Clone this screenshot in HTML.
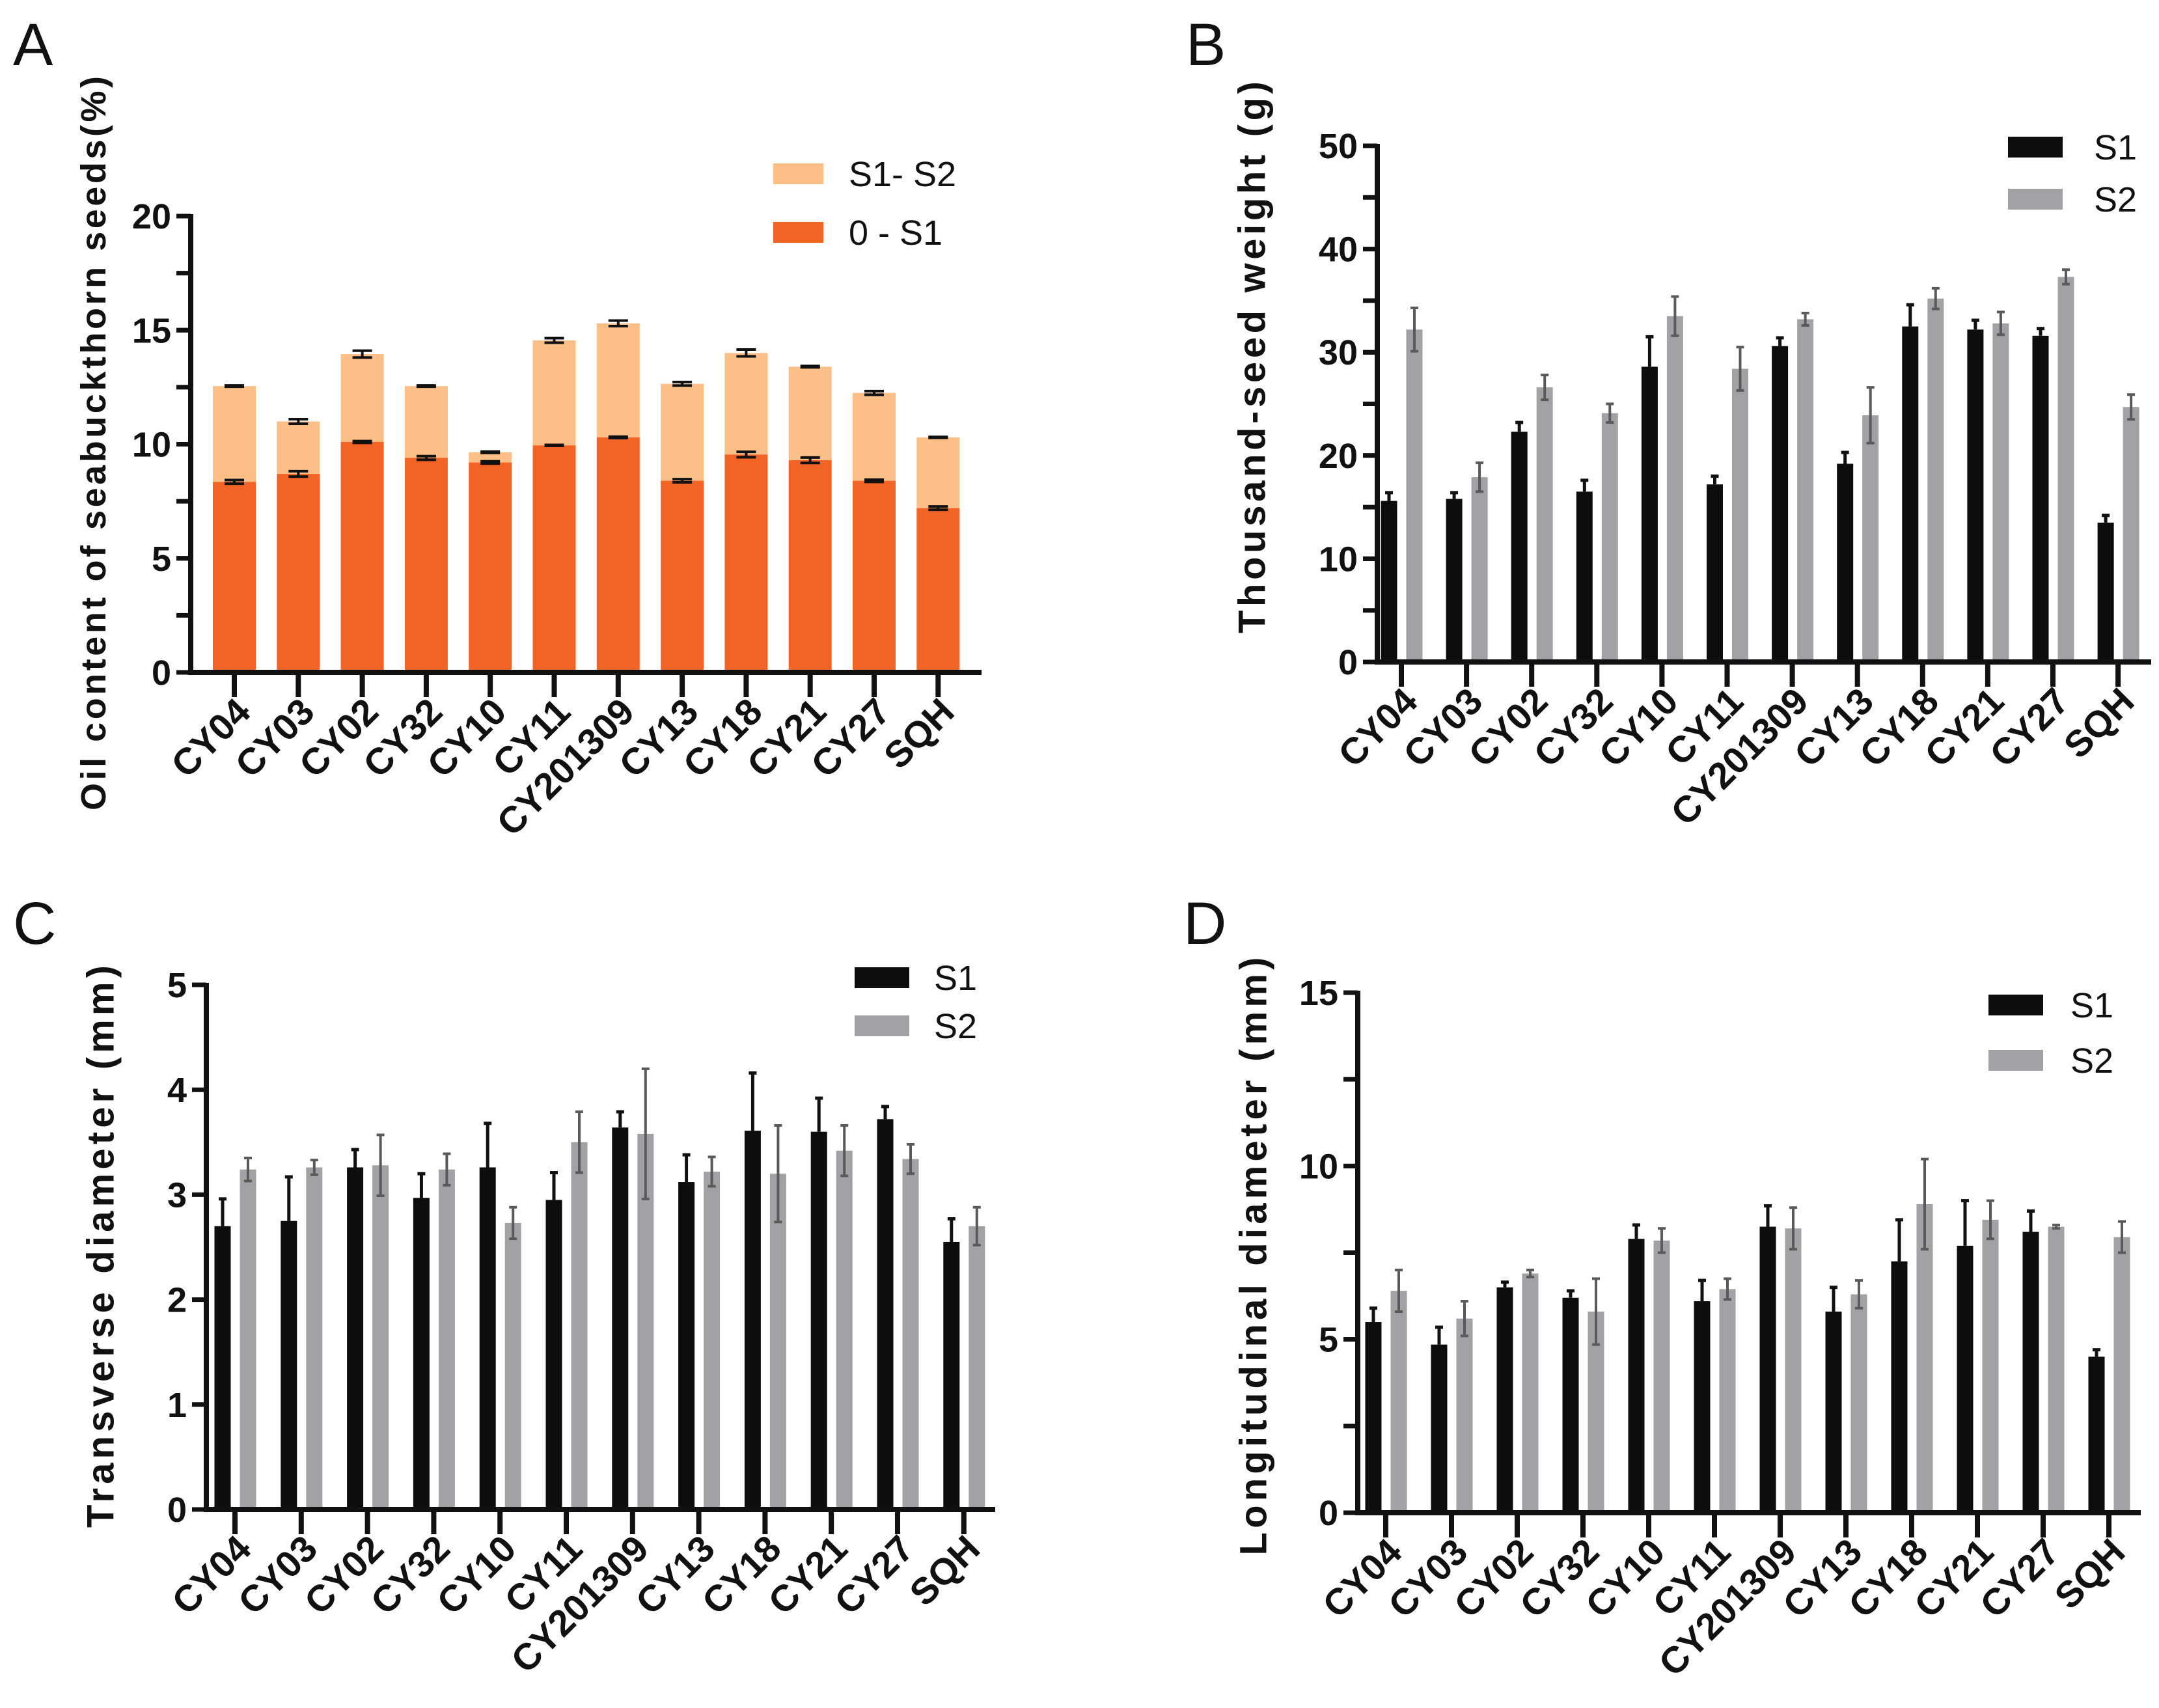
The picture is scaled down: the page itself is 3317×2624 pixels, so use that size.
<!DOCTYPE html>
<html><head><meta charset="utf-8"><style>
html,body{margin:0;padding:0;background:#fff;}
svg{display:block;}
text{font-family:"Liberation Sans",Arial,sans-serif;}
</style></head><body>
<svg id="fig" width="3317" height="2624" viewBox="0 0 3317 2624" xmlns="http://www.w3.org/2000/svg">
<rect width="3317" height="2624" fill="#fff"/>
<text x="20" y="100" font-size="92" fill="#111">A</text>
<text x="1822" y="100" font-size="92" fill="#111">B</text>
<text x="20" y="1450" font-size="92" fill="#111">C</text>
<text x="1818" y="1450" font-size="92" fill="#111">D</text>
</svg>
<script>
const categories = ["CY04","CY03","CY02","CY32","CY10","CY11","CY201309","CY13","CY18","CY21","CY27","SQH"];
// Panel A (stacked oil content)
const oilS1 = [8.35,8.7,10.1,9.4,9.2,9.95,10.3,8.4,9.55,9.3,8.4,7.2];
const oilS1Err = [0.08,0.12,0.04,0.08,0.05,0.02,0.03,0.07,0.12,0.12,0.05,0.07];
const oilTotal = [12.55,11.0,13.95,12.55,9.65,14.55,15.3,12.65,14.0,13.4,12.25,10.3];
const oilTotalErr = [0.03,0.1,0.15,0.03,0.03,0.1,0.12,0.08,0.15,0.03,0.08,0.02];
const ticksA = [0,5,10,15,20];
// Panel B (thousand-seed weight)
const tswS1 = [15.6,15.8,22.3,16.5,28.6,17.2,30.6,19.2,32.5,32.2,31.6,13.5];
const tswS1Err = [0.8,0.6,0.9,1.1,2.9,0.8,0.8,1.1,2.1,0.9,0.7,0.7];
const tswS2 = [32.2,17.9,26.6,24.1,33.5,28.4,33.2,23.9,35.2,32.8,37.3,24.7];
const tswS2Err = [2.1,1.4,1.2,0.9,1.9,2.1,0.6,2.7,1.0,1.1,0.7,1.2];
const ticksB = [0,10,20,30,40,50];
// Panel C (transverse diameter)
const tdS1 = [2.70,2.75,3.26,2.97,3.26,2.95,3.64,3.12,3.61,3.60,3.72,2.55];
const tdS1Err = [0.26,0.42,0.17,0.23,0.42,0.26,0.15,0.26,0.55,0.32,0.12,0.22];
const tdS2 = [3.24,3.26,3.28,3.24,2.73,3.50,3.58,3.22,3.20,3.42,3.34,2.70];
const tdS2Err = [0.11,0.07,0.29,0.15,0.15,0.29,0.62,0.14,0.46,0.24,0.14,0.18];
const ticksC = [0,1,2,3,4,5];
// Panel D (longitudinal diameter)
const ldS1 = [5.5,4.85,6.5,6.2,7.9,6.1,8.25,5.8,7.25,7.7,8.1,4.5];
const ldS1Err = [0.4,0.5,0.15,0.2,0.4,0.6,0.6,0.7,1.2,1.3,0.6,0.2];
const ldS2 = [6.4,5.6,6.9,5.8,7.85,6.45,8.2,6.3,8.9,8.45,8.25,7.95];
const ldS2Err = [0.6,0.5,0.1,0.95,0.35,0.3,0.6,0.4,1.3,0.55,0.05,0.45];
const ticksD = [0,5,10,15];

const NS="http://www.w3.org/2000/svg";
const svg=document.getElementById('fig');
function mk(tag,attrs,parent){const e=document.createElementNS(NS,tag);for(const k in attrs)e.setAttribute(k,attrs[k]);(parent||svg).appendChild(e);return e;}

function axes(g,p,ticks,minorStep){
  const ys=v=>p.y0-(v/p.max)*(p.y0-p.yTop);
  if(minorStep){for(let v=0;v<=p.max+1e-9;v+=minorStep){const t=mk('line',{x1:p.x0-22,x2:p.x0,y1:ys(v),y2:ys(v),stroke:'#111','stroke-width':7},g);
    
    }}
  ticks.forEach(v=>{
    const t=mk('line',{x1:p.x0-22,x2:p.x0,y1:ys(v),y2:ys(v),stroke:'#111','stroke-width':7},g);
    
    
    const l=mk('text',{x:p.x0-30,y:ys(v)+19,'text-anchor':'end','font-size':54,'font-weight':'bold',fill:'#111'},g);
    l.textContent=v;
    
    
  });
  const ya=mk('line',{x1:p.x0,x2:p.x0,y1:p.yTop-3,y2:p.y0+4,stroke:'#111','stroke-width':8},g);
  
  
  const xa=mk('line',{x1:p.x0-4,x2:p.xEnd,y1:p.y0,y2:p.y0,stroke:'#111','stroke-width':8},g);
  
  
  categories.forEach((c,i)=>{
    const cx=p.first+i*p.step;
    const t=mk('line',{x1:cx,x2:cx,y1:p.y0,y2:p.y0+38,stroke:'#111','stroke-width':8},g);
    
    
    const l=mk('text',{x:0,y:0,'text-anchor':'end','font-size':57,'font-weight':'bold',fill:'#111',transform:`translate(${cx+28},${p.y0+64}) rotate(-45)`},g);
    l.textContent=c;
    
    
  });
  const tt=mk('text',{x:0,y:0,'text-anchor':'middle','dominant-baseline':'central','font-size':p.tfs,'font-weight':'bold',fill:'#111',textLength:p.tlen,lengthAdjust:'spacing',transform:`translate(${p.tx},${p.ty}) rotate(-90)`},g);
  tt.textContent=p.title;
  
  
  return ys;
}
function errbar(g,x,yTop,yBot,cap,color,w){
  const e=mk('g',{},g);
  
  
  mk('line',{x1:x,x2:x,y1:yTop,y2:yBot,stroke:color,'stroke-width':w},e);
  mk('line',{x1:x-cap,x2:x+cap,y1:yTop,y2:yTop,stroke:color,'stroke-width':w},e);
  return e;
}
function legend(g,items,sx,sw,sh,tx,fs){
  items.forEach(it=>{
    const lg=mk('g',{},g);
    
    
    mk('rect',{x:sx,y:it.y,width:sw,height:sh,fill:it.c},lg);
    const t=mk('text',{x:tx,y:it.y+sh/2+19,'font-size':fs,fill:'#111'},lg);
    t.textContent=it.t;
  });
}

// Panel A
(function(){
  const g=mk('g',{});
  
  
  const p={x0:293,xEnd:1508,y0:1033,yTop:332,max:20,first:360,step:98.3,title:'Oil content of seabuckthorn seeds(%)',tx:144,ty:681,tlen:1128,tfs:54};
  const ysf=v=>p.y0-(v/p.max)*(p.y0-p.yTop);
  const bw=66;
  categories.forEach((c,i)=>{
    const cx=p.first+i*p.step;
    const b2=mk('rect',{x:cx-bw/2,y:ysf(oilTotal[i]),width:bw,height:ysf(oilS1[i])-ysf(oilTotal[i]),fill:'#fbbf87'},g);
    
    
    const b1=mk('rect',{x:cx-bw/2,y:ysf(oilS1[i]),width:bw,height:p.y0-ysf(oilS1[i]),fill:'#f26425'},g);
    
    
    [[oilS1[i],oilS1Err[i]],[oilTotal[i],oilTotalErr[i]]].forEach(([v,e])=>{
      const eg=errbar(g,cx,ysf(v+e),ysf(v-e),15,'#111',4);
      mk('line',{x1:cx-15,x2:cx+15,y1:ysf(v-e),y2:ysf(v-e),stroke:'#111','stroke-width':4},eg);
    });
  });
  axes(g,p,ticksA,2.5);
  legend(g,[{y:251,c:'#fbbf87',t:'S1- S2'},{y:341,c:'#f26425',t:'0 - S1'}],1188,77,32,1304,54);
})();

function grouped(name,p,s1,e1,s2,e2,ticks,minor,leg){
  const g=mk('g',{});
  
  
  const ysf=v=>p.y0-(v/p.max)*(p.y0-p.yTop);
  const bw=25;
  categories.forEach((c,i)=>{
    const cx=p.first+i*p.step;
    const x1=cx-19, x2=cx+20;
    errbar(g,x1,ysf(s1[i]+e1[i]),ysf(s1[i]),6,'#111',5);
    const b1=mk('rect',{x:x1-bw/2,y:ysf(s1[i]),width:bw,height:p.y0-ysf(s1[i]),fill:'#0d0d0d'},g);
    
    
    const b2=mk('rect',{x:x2-bw/2,y:ysf(s2[i]),width:bw,height:p.y0-ysf(s2[i]),fill:'#a2a2a5'},g);
    
    
    const eg=errbar(g,x2,ysf(s2[i]+e2[i]),ysf(s2[i]-e2[i]),6,'#5a5a5a',4);
    mk('line',{x1:x2-6,x2:x2+6,y1:ysf(s2[i]-e2[i]),y2:ysf(s2[i]-e2[i]),stroke:'#5a5a5a','stroke-width':4},eg);
  });
  axes(g,p,ticks,minor);
  legend(g,[{y:leg.y1,c:'#0d0d0d',t:'S1'},{y:leg.y2,c:'#a2a2a5',t:'S2'}],leg.sx,84,32,leg.tx,54);
}
grouped('chart-thousand-seed-weight',{x0:2116,xEnd:3305,y0:1017,yTop:224,max:50,first:2153,step:100.1,title:'Thousand-seed weight (g)',tx:1924,ty:549,tlen:848,tfs:58},tswS1,tswS1Err,tswS2,tswS2Err,ticksB,5,{y1:210,y2:290,sx:3085,tx:3217});
grouped('chart-transverse-diameter',{x0:317,xEnd:1529,y0:2319,yTop:1513,max:5,first:361,step:101.8,title:'Transverse diameter  (mm)',tx:155,ty:1915,tlen:864,tfs:58},tdS1,tdS1Err,tdS2,tdS2Err,ticksC,0,{y1:1486,y2:1560,sx:1313,tx:1435});
grouped('chart-longitudinal-diameter',{x0:2086,xEnd:3289,y0:2324,yTop:1525,max:15,first:2129,step:101,title:'Longitudinal diameter (mm)',tx:1926,ty:1930,tlen:919,tfs:58},ldS1,ldS1Err,ldS2,ldS2Err,ticksD,2.5,{y1:1528,y2:1613,sx:3055,tx:3181});
</script>
</body></html>
